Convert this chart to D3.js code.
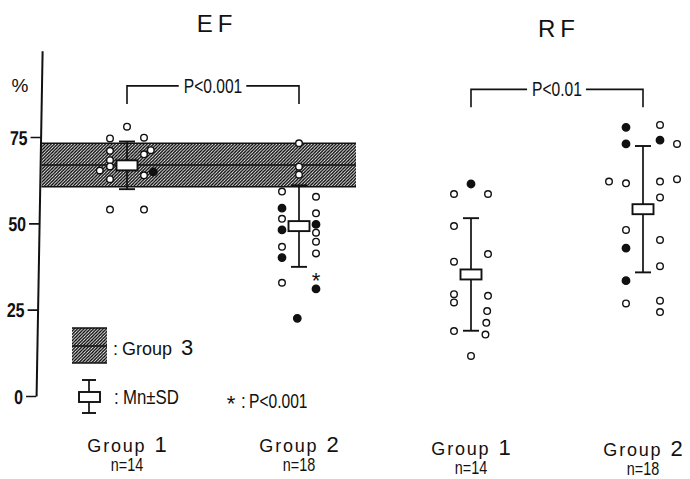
<!DOCTYPE html>
<html><head><meta charset="utf-8">
<script src="https://cdn.jsdelivr.net/npm/d3@7"></script>
<style>
html,body{margin:0;padding:0;background:#fff;}
svg{display:block;}
</style></head><body>
<svg id="chart" width="690" height="479"></svg>
<script>
// ---- data ----
const panels = ["EF", "RF"];
const groups = ["EF1", "EF2", "RF1", "RF2"];
const groupNumbers = ["1", "2", "1", "2"];
const groupSizes = ["n=14", "n=18", "n=14", "n=18"];
const yTicks = [0, 25, 50, 75];

// each patient: [value %, lane within the strip, filled marker]
const efGroup1 = [
  [78.0, 0, 0], [74.6, -1, 0], [74.8, 1, 0], [71.0, -1, 0], [68.3, -1, 0],
  [66.5, -1, 0], [65.3, -1.6, 0], [62.8, -1, 0], [54.0, -1, 0], [54.0, 1, 0],
  [70.0, 1, 0], [71.2, 1.4, 0], [63.9, 1, 0], [64.9, 1.55, 1]
];
const efGroup2 = [
  [73.2, 0, 0], [66.4, 0, 0], [64.1, 0, 0],
  [59.2, -1, 0], [54.4, -1, 1], [51.3, -1, 0], [48.1, -1, 1], [43.2, -1, 0], [40.1, -1, 1], [32.8, -1, 0],
  [22.5, -0.1, 1],
  [57.7, 1, 0], [52.9, 1, 0], [49.7, 1, 1], [47.3, 1, 0], [44.7, 1, 0], [41.3, 1, 0], [31.0, 1, 1]
];
const rfGroup1 = [
  [61.4, 0, 1], [58.5, -1, 0], [58.5, 1, 0],
  [49.2, -1, 0], [38.9, -1, 0], [29.5, -1, 0], [27.1, -1, 0], [18.8, -1, 0],
  [41.1, 1, 0], [29.0, 1, 0], [24.6, 0.95, 0], [21.2, 0.9, 0], [17.8, 0.85, 0],
  [11.6, 0, 0]
];
const rfGroup2 = [
  [77.8, -1, 1], [73.0, -1, 1], [62.1, -2, 0], [61.6, -1, 0], [48.1, -1, 0],
  [42.8, -1, 1], [33.4, -1, 1], [26.8, -1, 0],
  [78.5, 1, 0], [74.1, 1, 1], [73.0, 2, 0], [62.1, 1, 0], [62.8, 2, 0],
  [57.5, 1, 0], [45.2, 1, 0], [37.6, 1, 0], [27.6, 1, 0], [24.3, 1, 0]
];
const patients = [efGroup1, efGroup2, rfGroup1, rfGroup2];

const means = [66.8, 49.2, 35.2, 54.1];
const sds = [6.9, 11.8, 16.3, 18.3];

// reference population (Group 3) for EF: mean +/- SD band
const group3Mean = 66.9;
const group3Sd = 6.3;

// group comparisons
const comparisons = [
  { from: "EF1", to: "EF2", label: "P<0.001", level: 89.8 },
  { from: "RF1", to: "RF2", label: "P<0.01", level: 88.8 }
];
// patient marked with an asterisk
const starredValue = 31.0;

// ---- layout ----
const svg = d3.select("#chart");
const sans = '"Liberation Sans",Arial,sans-serif';
const INK = "#111";

const y = d3.scaleLinear().domain([0, 100]).range([396, 50.7]);
const x = d3.scalePoint().domain(groups).range([127, 643]);
const lane = d3.scaleLinear().domain([-1, 1]).range([-17, 17]);

// condensed text: drawn at the origin of a horizontally squeezed group
function condText(parent, px, py, str, opts) {
  const o = Object.assign({ size: 18, k: 0.82, anchor: "start", weight: "normal" }, opts || {});
  return parent.append("text")
    .attr("transform", `translate(${px},${py}) scale(${o.k},1)`)
    .attr("text-anchor", o.anchor).attr("font-family", sans)
    .attr("font-size", o.size).attr("font-weight", o.weight)
    .attr("fill", INK).text(str);
}

// hatch pattern for the Group 3 band
const defs = svg.append("defs");
const pat = defs.append("pattern").attr("id", "hatch")
  .attr("patternUnits", "userSpaceOnUse").attr("width", 3.2).attr("height", 3.2);
pat.append("path")
  .attr("d", "M-0.8,0.8 L0.8,-0.8 M0,3.2 L3.2,0 M2.4,4 L4,2.4")
  .attr("stroke", "#000").attr("stroke-width", 1.3);

// ---- y axis (slightly slanted, as drawn) ----
const axisG = svg.append("g")
  .attr("transform", "translate(43.0,0) skewX(-1.0)");
axisG.call(d3.axisLeft(y).tickValues(yTicks).tickSize(10).tickSizeOuter(0).tickPadding(2))
  .call(g => g.select(".domain").attr("stroke", INK).attr("stroke-width", 2))
  .call(g => g.selectAll(".tick line").attr("stroke", INK).attr("stroke-width", 1.6))
  .call(g => g.selectAll(".tick text")
    .attr("x", null).attr("dy", "0.36em")
    .attr("transform", "translate(-13,0) scale(0.8,1)")
    .attr("font-family", sans).attr("font-size", 20).attr("font-weight", "bold")
    .attr("fill", INK));

svg.append("text").attr("x", 20).attr("y", 92).attr("text-anchor", "middle")
  .attr("font-family", sans).attr("font-size", 19).attr("fill", INK).text("%");

// ---- Group 3 band ----
const bandX0 = 41.5, bandX1 = 356;
svg.append("rect")
  .attr("x", bandX0).attr("width", bandX1 - bandX0)
  .attr("y", y(group3Mean + group3Sd))
  .attr("height", y(group3Mean - group3Sd) - y(group3Mean + group3Sd))
  .attr("fill", "url(#hatch)");
[group3Mean + group3Sd, group3Mean, group3Mean - group3Sd].forEach(v => {
  svg.append("line").attr("x1", bandX0).attr("x2", bandX1)
    .attr("y1", y(v)).attr("y2", y(v))
    .attr("stroke", INK).attr("stroke-width", 1.6);
});

// ---- patients ----
groups.forEach((gk, gi) => {
  svg.append("g").selectAll("circle").data(patients[gi]).join("circle")
    .attr("cx", d => x(gk) + lane(d[1]))
    .attr("cy", d => y(d[0]))
    .attr("r", d => d[2] ? 3.7 : 3.3)
    .attr("fill", d => d[2] ? INK : "#fff")
    .attr("stroke", INK).attr("stroke-width", 1.4);
});

// ---- mean +/- SD ----
groups.forEach((gk, gi) => {
  const cx = x(gk), m = means[gi], s = sds[gi];
  const g = svg.append("g").attr("stroke", INK).attr("fill", "none");
  g.append("line").attr("x1", cx).attr("x2", cx).attr("y1", y(m + s)).attr("y2", y(m - s))
    .attr("stroke-width", 1.7);
  [m + s, m - s].forEach(v => g.append("line")
    .attr("x1", cx - 8).attr("x2", cx + 8).attr("y1", y(v)).attr("y2", y(v))
    .attr("stroke-width", 1.9));
  g.append("rect").attr("x", cx - 10.5).attr("y", y(m) - 5).attr("width", 21).attr("height", 10)
    .attr("fill", "#fff").attr("stroke-width", 1.9);
});

// asterisk beside the marked patient
svg.append("text").attr("x", x("EF2") + lane(1)).attr("y", y(starredValue) - 1)
  .attr("text-anchor", "middle").attr("font-family", sans).attr("font-size", 22)
  .attr("fill", INK).text("*");

// ---- comparison brackets ----
comparisons.forEach(c => {
  const x0 = x(c.from), x1 = x(c.to), yy = y(c.level), yLeg = yy + 18;
  const mid = (x0 + x1) / 2;
  const t = condText(svg, mid, yy + 7, c.label, { size: 20, anchor: "middle", k: 0.78 });
  const bb = t.node().getBBox();
  const half = bb.width * 0.78 / 2;
  const g = svg.append("g").attr("stroke", INK).attr("stroke-width", 1.6).attr("fill", "none");
  g.append("path").attr("d", `M${x0},${yLeg}V${yy}H${mid - half - 5}`);
  g.append("path").attr("d", `M${mid + half + 4},${yy}H${x1}V${yLeg}`);
});

// ---- panel titles ----
svg.append("text").attr("x", 217).attr("y", 32).attr("text-anchor", "middle")
  .attr("font-family", sans).attr("font-size", 24).attr("letter-spacing", 5)
  .attr("fill", INK).text(panels[0]);
svg.append("text").attr("x", 559).attr("y", 37).attr("text-anchor", "middle")
  .attr("font-family", sans).attr("font-size", 24).attr("letter-spacing", 5)
  .attr("fill", INK).text(panels[1]);

// ---- group labels ----
const labelDy = [0, 0, 3, 4];
groups.forEach((gk, gi) => {
  const cx = x(gk);
  const t = svg.append("text").attr("x", cx).attr("y", 452 + labelDy[gi])
    .attr("text-anchor", "middle").attr("fill", INK);
  t.append("tspan").attr("font-family", sans).attr("font-size", 18).attr("letter-spacing", 1.8)
    .text("Group");
  t.append("tspan").attr("dx", 8).attr("font-family", sans).attr("font-size", 22).text(groupNumbers[gi]);
  condText(svg, cx, 471 + labelDy[gi], groupSizes[gi], { size: 18, anchor: "middle", k: 0.8 });
});

// ---- legend ----
const lg = svg.append("g");
lg.append("rect").attr("x", 72).attr("y", 328).attr("width", 35).attr("height", 35)
  .attr("fill", "url(#hatch)");
[328, 346, 363].forEach(yy => lg.append("line").attr("x1", 72).attr("x2", 107)
  .attr("y1", yy).attr("y2", yy).attr("stroke", INK).attr("stroke-width", 1.6));
const lt = lg.append("text").attr("x", 113).attr("y", 355).attr("fill", INK);
lt.append("tspan").attr("font-family", sans).attr("font-size", 18).text(":");
lt.append("tspan").attr("dx", 4).attr("font-family", sans).attr("font-size", 18).text("Group");
lt.append("tspan").attr("dx", 9).attr("font-family", sans).attr("font-size", 22).text("3");

const sym = lg.append("g").attr("stroke", INK).attr("fill", "none");
sym.append("line").attr("x1", 89).attr("x2", 89).attr("y1", 380).attr("y2", 413).attr("stroke-width", 1.7);
[380, 413].forEach(yy => sym.append("line").attr("x1", 82).attr("x2", 96)
  .attr("y1", yy).attr("y2", yy).attr("stroke-width", 1.9));
sym.append("rect").attr("x", 79).attr("y", 392).attr("width", 21).attr("height", 10)
  .attr("fill", "#fff").attr("stroke-width", 1.9);
condText(lg, 114, 404, ":", { size: 20, k: 0.85 });
condText(lg, 123, 404, "Mn±SD", { size: 21, k: 0.8 });

svg.append("text").attr("x", 231).attr("y", 411).attr("text-anchor", "middle")
  .attr("font-family", sans).attr("font-size", 22).attr("fill", INK).text("*");
condText(lg, 241, 408, ":", { size: 20, k: 0.85 });
condText(lg, 249, 408, "P<0.001", { size: 20, k: 0.78 });
</script>
</body></html>
